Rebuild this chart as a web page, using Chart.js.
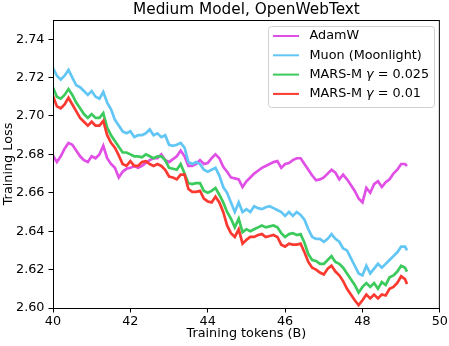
<!DOCTYPE html>
<html>
<head>
<meta charset="utf-8">
<script src="https://cdn.jsdelivr.net/npm/chart.js@4.4.1/dist/chart.umd.min.js"></script>
<style>
  html, body { margin: 0; padding: 0; background: #fff; }
  canvas { display: block; }
</style>
</head>
<body>
<canvas id="lossChart" width="449" height="346"></canvas>
<script>
// values (training tokens in billions)
const tokens = [
  40.0, 40.1, 40.2, 40.3, 40.4, 40.5, 40.6, 40.7, 40.8, 40.9,
  41.0, 41.1, 41.2, 41.3, 41.4, 41.5, 41.6, 41.7, 41.8, 41.9,
  42.0, 42.1, 42.2, 42.3, 42.4, 42.5, 42.6, 42.7, 42.8, 42.9,
  43.0, 43.1, 43.2, 43.3, 43.4, 43.5, 43.6, 43.7, 43.8, 43.9,
  44.0, 44.1, 44.2, 44.3, 44.4, 44.5, 44.6, 44.7, 44.8, 44.9,
  45.0, 45.1, 45.2, 45.3, 45.4, 45.5, 45.6, 45.7, 45.8, 45.9,
  46.0, 46.1, 46.2, 46.3, 46.4, 46.5, 46.6, 46.7, 46.8, 46.9,
  47.0, 47.1, 47.2, 47.3, 47.4, 47.5, 47.6, 47.7, 47.8, 47.9,
  48.0, 48.1, 48.2, 48.3, 48.4, 48.5, 48.6, 48.7, 48.8, 48.9,
  49.0, 49.1, 49.15
]

const adamwLoss = [
  2.6793, 2.676, 2.679, 2.683, 2.686, 2.685, 2.682, 2.679, 2.677, 2.676,
  2.679, 2.678, 2.680, 2.6845, 2.678, 2.675, 2.673, 2.668, 2.671, 2.6725,
  2.673, 2.674, 2.673, 2.674, 2.6755, 2.677, 2.678, 2.678, 2.680, 2.677,
  2.676, 2.6775, 2.679, 2.682, 2.679, 2.674, 2.674, 2.675, 2.677, 2.675,
  2.6755, 2.678, 2.680, 2.678, 2.6735, 2.671, 2.668, 2.6675, 2.667, 2.663,
  2.666, 2.668, 2.670, 2.6715, 2.673, 2.674, 2.675, 2.676, 2.6765, 2.673,
  2.675, 2.6755, 2.677, 2.678, 2.678, 2.675, 2.672, 2.669, 2.6665, 2.667,
  2.668, 2.670, 2.672, 2.6705, 2.667, 2.6695, 2.667, 2.664, 2.661, 2.657,
  2.655, 2.6625, 2.660, 2.6645, 2.666, 2.663, 2.6655, 2.667, 2.670, 2.672,
  2.675, 2.675, 2.674
]

const muonLoss = [
  2.725, 2.721, 2.719, 2.721, 2.724, 2.720, 2.716, 2.715, 2.713, 2.711,
  2.713, 2.710, 2.709, 2.7125, 2.707, 2.7035, 2.698, 2.695, 2.692, 2.691,
  2.692, 2.689, 2.690, 2.690, 2.691, 2.693, 2.690, 2.691, 2.689, 2.690,
  2.685, 2.6845, 2.685, 2.686, 2.6835, 2.676, 2.675, 2.676, 2.675, 2.672,
  2.671, 2.672, 2.673, 2.669, 2.663, 2.660, 2.655, 2.650, 2.655, 2.650,
  2.6515, 2.650, 2.653, 2.652, 2.6515, 2.6525, 2.653, 2.652, 2.651, 2.650,
  2.648, 2.650, 2.648, 2.650, 2.6485, 2.646, 2.641, 2.637, 2.636, 2.636,
  2.6345, 2.636, 2.6385, 2.636, 2.6345, 2.631, 2.630, 2.626, 2.622, 2.618,
  2.617, 2.622, 2.618, 2.6205, 2.623, 2.621, 2.623, 2.625, 2.627, 2.629,
  2.632, 2.632, 2.630
]

const marsM025Loss = [
  2.7148, 2.710, 2.709, 2.711, 2.714, 2.711, 2.707, 2.704, 2.701, 2.699,
  2.701, 2.699, 2.699, 2.7015, 2.694, 2.690, 2.687, 2.684, 2.681, 2.681,
  2.680, 2.679, 2.679, 2.6785, 2.680, 2.679, 2.678, 2.679, 2.679, 2.677,
  2.673, 2.6725, 2.672, 2.675, 2.670, 2.665, 2.6645, 2.665, 2.665, 2.661,
  2.660, 2.661, 2.6625, 2.659, 2.655, 2.650, 2.6465, 2.642, 2.6465, 2.6395,
  2.641, 2.640, 2.641, 2.642, 2.643, 2.642, 2.6425, 2.643, 2.642, 2.639,
  2.637, 2.6385, 2.639, 2.638, 2.6385, 2.634, 2.628, 2.625, 2.6245, 2.623,
  2.623, 2.625, 2.627, 2.624, 2.623, 2.621, 2.618, 2.615, 2.612, 2.608,
  2.611, 2.613, 2.611, 2.613, 2.610, 2.6135, 2.612, 2.616, 2.617, 2.619,
  2.622, 2.621, 2.619
]

const marsM01Loss = [
  2.7105, 2.705, 2.704, 2.706, 2.7095, 2.706, 2.7025, 2.699, 2.697, 2.695,
  2.697, 2.695, 2.695, 2.6975, 2.690, 2.686, 2.6835, 2.6795, 2.675, 2.674,
  2.6765, 2.674, 2.674, 2.676, 2.6765, 2.675, 2.674, 2.675, 2.674, 2.672,
  2.6685, 2.668, 2.667, 2.6695, 2.6695, 2.662, 2.6605, 2.6605, 2.661, 2.657,
  2.6555, 2.655, 2.658, 2.655, 2.650, 2.643, 2.639, 2.637, 2.641, 2.6335,
  2.6355, 2.637, 2.637, 2.638, 2.6385, 2.637, 2.6375, 2.638, 2.637, 2.633,
  2.632, 2.6335, 2.633, 2.633, 2.6335, 2.629, 2.624, 2.621, 2.620, 2.6185,
  2.6175, 2.6205, 2.622, 2.619, 2.617, 2.614, 2.610, 2.607, 2.604, 2.6015,
  2.604, 2.607, 2.605, 2.607, 2.605, 2.607, 2.6065, 2.610, 2.611, 2.613,
  2.6165, 2.615, 2.6125
]

const seriesNames = ["AdamW", "Muon (Moonlight)", "MARS-M γ = 0.025", "MARS-M γ = 0.01"]
const seriesColors = ["#e150e6", "#62c6f5", "#3cca5c", "#fa3a30"]
const xTicks = [40, 42, 44, 46, 48, 50]
const yTicks = [2.60, 2.62, 2.64, 2.66, 2.68, 2.70, 2.72, 2.74]

const FONT = "'DejaVu Sans', sans-serif"
const FS = 12.8

function toPoints(values) {
  return values.map((v, i) => ({ x: tokens[i], y: v }))
}

// title, axis labels and the full box round the plot
const framePlugin = {
  id: "frame",
  afterDraw(chart) {
    const { ctx, chartArea: a } = chart
    ctx.save()
    ctx.strokeStyle = "#000"
    ctx.lineWidth = 1
    ctx.strokeRect(a.left + 0.5, a.top + 0.5, a.right - a.left - 1, a.bottom - a.top)

    ctx.fillStyle = "#000"
    ctx.textAlign = "center"
    ctx.textBaseline = "middle"
    ctx.font = "15.3px " + FONT
    ctx.fillText("Medium Model, OpenWebText", (a.left + a.right) / 2, 10)

    ctx.font = FS + "px " + FONT
    ctx.fillText("Training tokens (B)", (a.left + a.right) / 2, 334)

    ctx.translate(9, (a.top + a.bottom) / 2)
    ctx.rotate(-Math.PI / 2)
    ctx.fillText("Training Loss", 0, 0)
    ctx.restore()
  },
}

// legend drawn inside the plot, upper right
const legendPlugin = {
  id: "insideLegend",
  afterDraw(chart) {
    const { ctx } = chart
    const boxX = 268, boxY = 26, boxW = 166, boxH = 81
    ctx.save()
    ctx.beginPath()
    ctx.roundRect(boxX + 0.5, boxY + 0.5, boxW, boxH, 3)
    ctx.fillStyle = "rgba(255,255,255,0.8)"
    ctx.fill()
    ctx.strokeStyle = "#d0d0d0"
    ctx.lineWidth = 1
    ctx.stroke()

    ctx.textBaseline = "middle"
    ctx.textAlign = "left"
    seriesNames.forEach((name, i) => {
      const y = 36 + i * 19.3
      ctx.strokeStyle = seriesColors[i]
      ctx.lineWidth = 2
      ctx.beginPath()
      ctx.moveTo(273, y)
      ctx.lineTo(299, y)
      ctx.stroke()

      ctx.fillStyle = "#000"
      let x = 309.5
      const parts = name.split("γ")
      ctx.font = FS + "px " + FONT
      ctx.fillText(parts[0], x, y)
      if (parts.length > 1) {
        x += ctx.measureText(parts[0]).width
        ctx.font = "italic " + FS + "px " + FONT
        ctx.fillText("γ", x, y)
        x += ctx.measureText("γ").width
        ctx.font = FS + "px " + FONT
        ctx.fillText(parts[1], x, y)
      }
    })
    ctx.restore()
  },
}

function makeDataset(label, values, color, order) {
  return {
    label: label,
    data: toPoints(values),
    borderColor: color,
    backgroundColor: color,
    borderWidth: 2.7,
    pointRadius: 0,
    tension: 0,
    order: order,
  }
}

new Chart(document.getElementById("lossChart"), {
  type: "line",
  data: {
    datasets: [
      makeDataset(seriesNames[0], adamwLoss, seriesColors[0], 4),
      makeDataset(seriesNames[1], muonLoss, seriesColors[1], 3),
      makeDataset(seriesNames[2], marsM025Loss, seriesColors[2], 2),
      makeDataset(seriesNames[3], marsM01Loss, seriesColors[3], 1),
    ],
  },
  options: {
    responsive: false,
    animation: false,
    events: [],
    layout: { padding: { top: 20, right: 8, left: 0, bottom: 0 } },
    plugins: {
      legend: { display: false },
      tooltip: { enabled: false },
    },
    scales: {
      x: {
        type: "linear",
        min: 40,
        max: 50,
        afterBuildTicks: (scale) => { scale.ticks = xTicks.map((v) => ({ value: v })) },
        afterFit: (scale) => { scale.height = 38 },
        ticks: {
          color: "#000",
          font: { family: FONT, size: FS },
          padding: 1,
          maxRotation: 0,
          callback: (v) => String(v),
        },
        grid: { drawOnChartArea: false, drawTicks: true, tickLength: 4.5, color: "#000" },
        border: { display: true, color: "#000" },
      },
      y: {
        type: "linear",
        min: 2.6,
        max: 2.75,
        afterBuildTicks: (scale) => { scale.ticks = yTicks.map((v) => ({ value: v })) },
        afterFit: (scale) => { scale.width = 53 },
        ticks: {
          color: "#000",
          font: { family: FONT, size: FS },
          padding: 4,
          callback: (v) => Number(v).toFixed(2),
        },
        grid: { drawOnChartArea: false, drawTicks: true, tickLength: 4.5, color: "#000" },
        border: { display: true, color: "#000" },
      },
    },
  },
  plugins: [framePlugin, legendPlugin],
})
</script>
</body>
</html>
